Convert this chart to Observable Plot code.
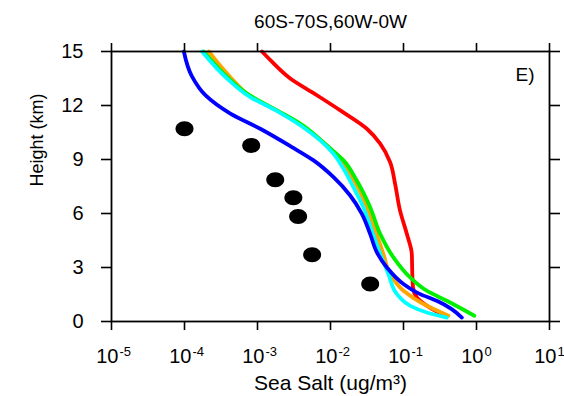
<!DOCTYPE html>
<html><head><meta charset="utf-8">
<script src="https://cdn.jsdelivr.net/npm/d3@7"></script>
<script src="https://cdn.jsdelivr.net/npm/@observablehq/plot@0.6"></script>
<style>html,body{margin:0;padding:0;background:#fff;} svg{display:block}</style>
</head><body><div id="chart"></div>
<script>
const title = "60S-70S,60W-0W";
const panelLabel = "E)";
const xLabel = "Sea Salt (ug/m³)";
const yLabel = "Height (km)";
const xTickExponents = [-5, -4, -3, -2, -1, 0, 1];
const xTickExpText = ["-5", "-4", "-3", "-2", "-1", "0", "1"];
const yTicks = [0, 3, 6, 9, 12, 15];

const redHeight = [15, 14.52, 13.5, 12.57, 11.73, 10.71, 9.88, 8.85, 7.65, 6.16, 4.87, 3.75, 2.64, 1.89, 1.34, 0.8, 0.3];
const redValue = [1.15e-3, 1.5e-3, 2.81e-3, 6.52e-3, 0.0136, 0.0315, 0.0479, 0.0656, 0.0767, 0.0897, 0.111, 0.13, 0.132, 0.135, 0.152, 0.224, 0.38];

const orangeHeight = [15, 13.68, 12.5, 11.73, 10.9, 10.0, 9.3, 8.5, 7.5, 6.35, 4.87, 3.75, 2.64, 1.71, 0.97, 0.32];
const orangeValue = [2.15e-4, 4.03e-4, 8.13e-4, 1.82e-3, 3.98e-3, 7.76e-3, 0.0117, 0.0166, 0.0234, 0.0316, 0.0427, 0.0531, 0.0656, 0.1, 0.1875, 0.412];

const greenHeight = [15, 13.59, 12.66, 11.73, 10.99, 9.78, 8.95, 7.83, 6.35, 4.87, 3.56, 2.45, 1.71, 1.15, 0.32];
const greenValue = [1.83e-4, 3.83e-4, 7.18e-4, 1.85e-3, 3.85e-3, 8.91e-3, 0.0151, 0.0229, 0.0349, 0.0479, 0.0728, 0.123, 0.208, 0.391, 0.933];

const cyanHeight = [15, 13.5, 12.47, 11.73, 10.9, 10.06, 9.32, 8.48, 7.46, 6.35, 5.05, 3.77, 2.64, 1.52, 0.87, 0.5, 0.22];
const cyanValue = [1.74e-4, 3.83e-4, 7.94e-4, 1.78e-3, 3.85e-3, 7.23e-3, 0.011, 0.0151, 0.0206, 0.0282, 0.0368, 0.0479, 0.0621, 0.0813, 0.124, 0.208, 0.391];

const blueHeight = [15, 13.6, 12.57, 11.55, 10.71, 9.69, 8.95, 8.02, 7.0, 5.98, 4.87, 3.84, 3.0, 2.08, 1.52, 1.15, 0.69, 0.22];
const blueValue = [9.8e-5, 1.27e-4, 1.93e-4, 4.25e-4, 1.09e-3, 2.96e-3, 5.86e-3, 0.011, 0.0186, 0.0269, 0.0349, 0.0432, 0.0592, 0.1, 0.169, 0.285, 0.457, 0.63];

const obsHeight = [10.71, 9.78, 7.87, 6.87, 5.83, 3.71, 2.08];
const obsValue = [1.0e-4, 8.2e-4, 1.75e-3, 3.1e-3, 3.6e-3, 5.6e-3, 0.035];

function series(hs, vs) { return hs.map((h, i) => ({height: h, value: vs[i]})); }
const red = series(redHeight, redValue);
const orange = series(orangeHeight, orangeValue);
const green = series(greenHeight, greenValue);
const cyan = series(cyanHeight, cyanValue);
const blue = series(blueHeight, blueValue);
const obs = series(obsHeight, obsValue);
const xTickData = xTickExponents.map((e, i) => ({value: Math.pow(10, e), exp: xTickExpText[i]}));

const ellipse = {
  draw(ctx) {
    const rx = 9, ry = 7.5, k = 0.5523;
    ctx.moveTo(rx, 0);
    ctx.bezierCurveTo(rx, ry * k, rx * k, ry, 0, ry);
    ctx.bezierCurveTo(-rx * k, ry, -rx, ry * k, -rx, 0);
    ctx.bezierCurveTo(-rx, -ry * k, -rx * k, -ry, 0, -ry);
    ctx.bezierCurveTo(rx * k, -ry, rx, -ry * k, rx, 0);
    ctx.closePath();
  }
};

const lw = 3.8;
const lineOpts = (stroke) => ({x: "value", y: "height", stroke, strokeWidth: lw, curve: "monotone-y"});
const chart = Plot.plot({
  width: 564,
  height: 396,
  marginLeft: 111,
  marginRight: 15,
  marginTop: 51,
  marginBottom: 75,
  style: {fontFamily: "'Liberation Sans', Arial, Helvetica, sans-serif", fontSize: "20px", color: "black", background: "white"},
  x: {type: "log", domain: [1e-5, 10]},
  y: {domain: [0, 15]},
  marks: [
    Plot.line(red, lineOpts("#ff0000")),
    Plot.line(orange, lineOpts("#ffa500")),
    Plot.line(green, lineOpts("#00f000")),
    Plot.line(cyan, lineOpts("#00ffff")),
    Plot.line(blue, lineOpts("#0000ff")),
    Plot.dot(obs, {x: "value", y: "height", symbol: ellipse, fill: "black", stroke: "none", r: 8}),
    Plot.frame({stroke: "black", strokeWidth: 1.8}),
    Plot.axisX({ticks: xTickData.map(d => d.value), tickSize: 9, tickFormat: () => "", label: null, strokeWidth: 1.6}),
    Plot.axisX({anchor: "top", ticks: xTickData.map(d => d.value), tickSize: 9, tickFormat: () => "", label: null, strokeWidth: 1.6}),
    Plot.axisY({ticks: yTicks, tickSize: 10, tickPadding: 18, fontSize: 20, label: null, strokeWidth: 1.6}),
    Plot.axisY({anchor: "right", ticks: yTicks, tickSize: 10, tickFormat: () => "", label: null, strokeWidth: 1.6}),
    Plot.text(xTickData, {x: "value", frameAnchor: "bottom", text: () => "10", textAnchor: "end", lineAnchor: "bottom", dx: 7, dy: 41, fontSize: 20, fill: "black"}),
    Plot.text(xTickData, {x: "value", frameAnchor: "bottom", text: "exp", textAnchor: "start", lineAnchor: "bottom", dx: 8, dy: 34, fontSize: 13, fill: "black"}),
    Plot.text([xLabel], {frameAnchor: "bottom", text: d => d, lineAnchor: "bottom", dy: 68, fontSize: 21, fill: "black"}),
    Plot.text([yLabel], {frameAnchor: "left", text: d => d, rotate: -90, dx: -74, fontSize: 18, fill: "black"}),
    Plot.text([title], {frameAnchor: "top", text: d => d, lineAnchor: "bottom", dy: -24, fontSize: 19, fill: "black"}),
    Plot.text([panelLabel], {frameAnchor: "top-right", text: d => d, textAnchor: "end", lineAnchor: "bottom", dx: -15, dy: 29, fontSize: 19, fill: "black"})
  ]
});
document.getElementById("chart").appendChild(chart);
</script>
</body></html>
